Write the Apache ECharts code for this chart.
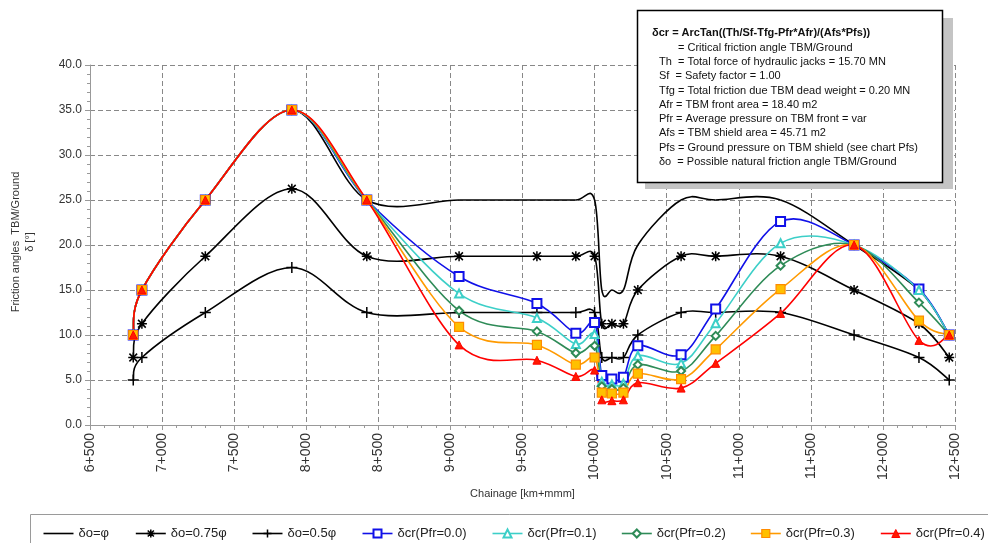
<!DOCTYPE html>
<html>
<head>
<meta charset="utf-8">
<script src="https://cdn.jsdelivr.net/npm/echarts@6/dist/echarts.min.js"></script>
<style>
html,body{margin:0;padding:0;background:#fff;}
#chart{width:988px;height:543px;}
</style>
</head>
<body>
<div id="chart"></div>
<script>
// ---- data ----
var chainage = [6800, 6860, 7300, 7900, 8420, 9060, 9600, 9870, 10000, 10050, 10120, 10200, 10300, 10600, 10840, 11290, 11800, 12250, 12460];
var deltaPhi   = [10, 15, 25, 35, 25, 25, 25, 25, 25, 15, 15, 15, 20, 25, 25, 25, 20, 15, 10];
var delta075   = [7.5, 11.25, 18.75, 26.25, 18.75, 18.75, 18.75, 18.75, 18.75, 11.25, 11.25, 11.25, 15, 18.75, 18.75, 18.75, 15, 11.25, 7.5];
var delta050   = [5, 7.5, 12.5, 17.5, 12.5, 12.5, 12.5, 12.5, 12.5, 7.5, 7.5, 7.5, 10, 12.5, 12.5, 12.5, 10, 7.5, 5];
var crPfr00    = [10, 15, 25, 35, 25, 16.5, 13.5, 10.2, 11.4, 5.5, 5.1, 5.3, 8.8, 7.8, 12.9, 22.6, 20, 15.1, 10];
var crPfr01    = [10, 15, 25, 35, 25, 14.6, 11.9, 9.0, 10.1, 4.8, 4.5, 4.6, 7.7, 6.85, 11.3, 20.2, 20, 15.0, 10];
var crPfr02    = [10, 15, 25, 35, 25, 12.7, 10.4, 8.0, 8.8, 4.3, 4.0, 4.1, 6.7, 6.0, 9.9, 17.7, 20, 13.6, 10];
var crPfr03    = [10, 15, 25, 35, 25, 10.9, 8.9, 6.7, 7.5, 3.6, 3.5, 3.6, 5.7, 5.1, 8.4, 15.1, 20, 11.6, 10];
var crPfr04    = [10, 15, 25, 35, 25, 8.9, 7.2, 5.4, 6.1, 2.8, 2.7, 2.8, 4.7, 4.1, 6.85, 12.4, 20, 9.4, 10];

var xTickValues = [6500, 7000, 7500, 8000, 8500, 9000, 9500, 10000, 10500, 11000, 11500, 12000, 12500];
var xTickLabels = ['6+500', '7+000', '7+500', '8+000', '8+500', '9+000', '9+500', '10+000', '10+500', '11+000', '11+500', '12+000', '12+500'];
var yTickValues = [0, 5, 10, 15, 20, 25, 30, 35, 40];
var yTickLabels = ['0.0', '5.0', '10.0', '15.0', '20.0', '25.0', '30.0', '35.0', '40.0'];

var seriesNames = ['δo=φ', 'δo=0.75φ', 'δo=0.5φ', 'δcr(Pfr=0.0)', 'δcr(Pfr=0.1)', 'δcr(Pfr=0.2)', 'δcr(Pfr=0.3)', 'δcr(Pfr=0.4)'];

var noteLines = [
  'δcr = ArcTan((Th/Sf-Tfg-Pfr*Afr)/(Afs*Pfs))',
  '= Critical friction angle TBM/Ground',
  'Th  = Total force of hydraulic jacks = 15.70 MN',
  'Sf  = Safety factor = 1.00',
  'Tfg = Total friction due TBM dead weight = 0.20 MN',
  'Afr = TBM front area = 18.40 m2',
  'Pfr = Average pressure on TBM front = var',
  'Afs = TBM shield area = 45.71 m2',
  'Pfs = Ground pressure on TBM shield (see chart Pfs)',
  'δo  = Possible natural friction angle TBM/Ground'
];

// ---- helpers ----
function pairs(ys) { return chainage.map(function (x, i) { return [x, ys[i]]; }); }
var FONT = '"Liberation Sans", Arial, sans-serif';
var STAR = 'path://M0,0L10,10M10,0L0,10M5,-1.5L5,11.5M-1.5,5L11.5,5';
var PLUS = 'path://M5,0L5,10M0,5L10,5';

// cardinal-spline curve (tension 0.5) drawn through the axis scales
function curveSeries(ys, color, width) {
  return {
    type: 'custom', coordinateSystem: 'cartesian2d', silent: true, z: 2,
    data: pairs(ys), encode: { x: 0, y: 1 },
    renderItem: function (params, api) {
      var i = params.dataIndex, n = chainage.length;
      if (i >= n - 1) return null;
      var P = function (k) { k = Math.max(0, Math.min(n - 1, k)); return api.coord([chainage[k], ys[k]]); };
      var p0 = P(i - 1), p1 = P(i), p2 = P(i + 1), p3 = P(i + 2);
      var T = 1 / 6;
      return {
        type: 'bezierCurve',
        shape: {
          x1: p1[0], y1: p1[1], x2: p2[0], y2: p2[1],
          cpx1: p1[0] + (p2[0] - p0[0]) * T, cpy1: p1[1] + (p2[1] - p0[1]) * T,
          cpx2: p2[0] - (p3[0] - p1[0]) * T, cpy2: p2[1] - (p3[1] - p1[1]) * T
        },
        style: { stroke: color, lineWidth: width, fill: null }
      };
    }
  };
}

var lineColors = ['#000', '#000', '#000', '#1010E8', '#3CCFC8', '#2E8B57', '#FF9A00', '#FF0000'];
var symbols    = ['none', STAR, PLUS, 'emptyRect', 'emptyTriangle', 'emptyDiamond', 'rect', 'triangle'];
var symSizes   = [0, 10, 11, 9, 8, 8, 9, 8];
var symFills   = ['#000', '#000', '#000', '#1010E8', '#3CCFC8', '#2E8B57', '#FFC000', '#FF1A00'];
var symBorders = ['#000', '#000', '#000', '#1010E8', '#3CCFC8', '#2E8B57', '#FF8C00', '#FF0000'];
var symBW      = [0, 1.5, 1.5, 1.6, 1.4, 1.4, 1.2, 1.0];
var allData = [deltaPhi, delta075, delta050, crPfr00, crPfr01, crPfr02, crPfr03, crPfr04];

var series = [];
allData.forEach(function (d, i) { series.push(curveSeries(d, lineColors[i], 1.6)); });
allData.forEach(function (d, i) {
  series.push({
    name: seriesNames[i], type: 'line', data: pairs(d), z: 3,
    showSymbol: symbols[i] !== 'none', symbol: symbols[i], symbolSize: symSizes[i],
    lineStyle: { color: lineColors[i], width: 1.6, opacity: 0 },
    itemStyle: { color: symFills[i], borderColor: symBorders[i], borderWidth: symBW[i] },
    emphasis: { disabled: true }
  });
});

var legendLefts = [42.7, 135, 251.7, 361.7, 491.7, 621, 750, 880];
var legends = seriesNames.map(function (n, i) {
  return {
    data: [n], left: legendLefts[i], top: 527, padding: 0,
    itemWidth: 30, itemHeight: 10, itemGap: 0, selectedMode: false,
    lineStyle: { opacity: 1, width: 1.6, color: lineColors[i] },
    itemStyle: {
      opacity: i === 0 ? 0 : 1,
      color: (i >= 3 && i <= 5) ? lineColors[i] : symFills[i],
      borderColor: symBorders[i], borderWidth: symBW[i]
    },
    textStyle: { fontSize: 13, color: '#222', fontFamily: FONT }
  };
});

var graphics = [
  { type: 'text', x: 23, y: 242, rotation: Math.PI / 2,
    style: { text: 'Friction angles  TBM/Ground\nδ [°]', font: '11px ' + FONT, fill: '#333', align: 'center', verticalAlign: 'middle', lineHeight: 13.5 } },
  { type: 'rect', shape: { x: 30.5, y: 514.5, width: 975, height: 40 },
    style: { fill: 'none', stroke: '#9a9a9a', lineWidth: 1 }, z: 1 },
  { type: 'rect', shape: { x: 645, y: 18, width: 308, height: 171 },
    style: { fill: '#c4c4c4' }, z: 100 },
  { type: 'rect', shape: { x: 637.5, y: 10.5, width: 305, height: 172 },
    style: { fill: '#fff', stroke: '#000', lineWidth: 1.5 }, z: 101 }
];
noteLines.forEach(function (t, i) {
  var x = i === 0 ? 652 : (i === 1 ? 678 : 659);
  graphics.push({ type: 'text', x: x, y: 33.3 + i * 14.3, z: 102,
    style: { text: t, font: (i === 0 ? 'bold ' : '') + '11px ' + FONT, fill: '#111', align: 'left', verticalAlign: 'middle' } });
});

var option = {
  animation: false,
  backgroundColor: '#fff',
  grid: { left: 90, right: 33, top: 65, bottom: 118, containLabel: false },
  xAxis: {
    type: 'value', min: 6500, max: 12500, interval: 500,
    name: 'Chainage [km+mmm]', nameLocation: 'middle', nameGap: 58,
    nameTextStyle: { fontSize: 11, color: '#333', fontFamily: FONT },
    axisLine: { show: true, onZero: false, lineStyle: { color: '#999' } },
    axisTick: { show: true, length: 5, lineStyle: { color: '#999' } },
    minorTick: { show: true, splitNumber: 5, length: 3, lineStyle: { color: '#999' } },
    splitLine: { show: true, lineStyle: { color: '#888', type: [5, 3], width: 1 } },
    axisLabel: { rotate: 90, margin: 8, fontSize: 14, color: '#333', fontFamily: FONT,
      formatter: function (v) { var k = xTickValues.indexOf(v); return k >= 0 ? xTickLabels[k] : ''; } }
  },
  yAxis: {
    type: 'value', min: 0, max: 40, interval: 5,
    axisLine: { show: true, onZero: false, lineStyle: { color: '#999' } },
    axisTick: { show: true, length: 5, lineStyle: { color: '#999' } },
    minorTick: { show: true, splitNumber: 5, length: 3, lineStyle: { color: '#999' } },
    splitLine: { show: true, lineStyle: { color: '#888', type: [5, 3], width: 1 } },
    axisLabel: { margin: 8, fontSize: 12, color: '#333', fontFamily: FONT,
      formatter: function (v) { var k = yTickValues.indexOf(v); return k >= 0 ? yTickLabels[k] : ''; } }
  },
  legend: legends,
  graphic: graphics,
  series: series
};

var chart = echarts.init(document.getElementById('chart'), null, { renderer: 'canvas' });
chart.setOption(option);
</script>
</body>
</html>
